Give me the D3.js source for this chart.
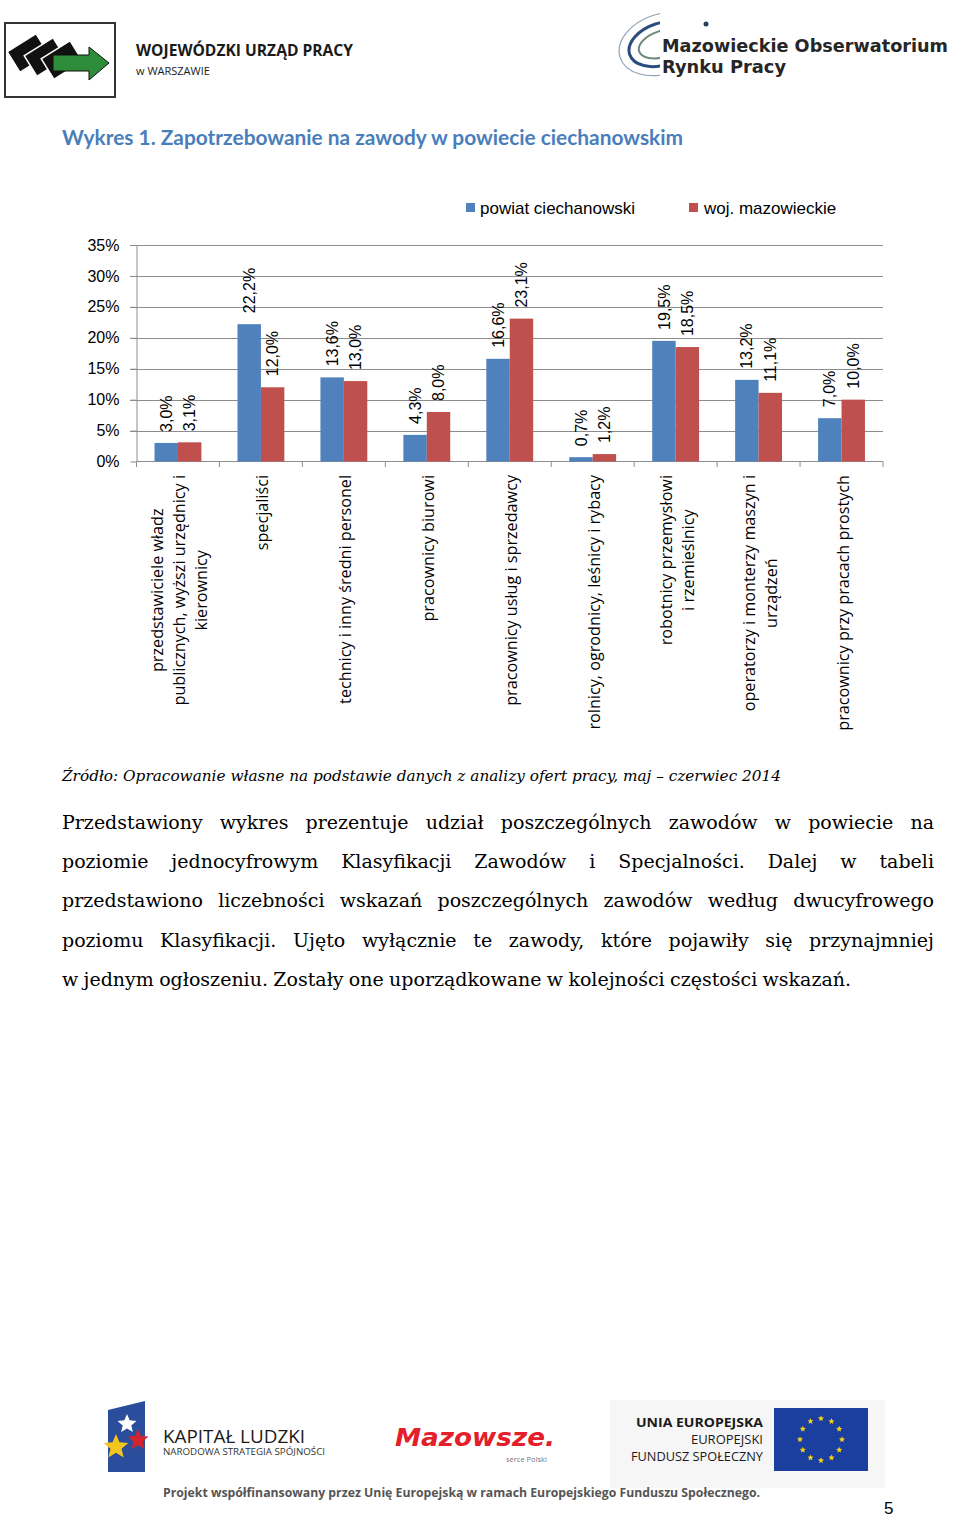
<!DOCTYPE html>
<html>
<head>
<meta charset="utf-8">
<script src="https://cdn.jsdelivr.net/npm/d3@7"></script>
<style>
body { margin: 0; background: #fff; }
svg { display: block; }
</style>
</head>
<body>
<script>
// Category labels (one entry per line of the rotated axis label)
var categories = [
  ["przedstawiciele władz", "publicznych, wyższi urzędnicy i", "kierownicy"],
  ["specjaliści"],
  ["technicy i inny średni personel"],
  ["pracownicy biurowi"],
  ["pracownicy usług i sprzedawcy"],
  ["rolnicy, ogrodnicy, leśnicy i rybacy"],
  ["robotnicy przemysłowi", "i rzemieślnicy"],
  ["operatorzy i monterzy maszyn i", "urządzeń"],
  ["pracownicy przy pracach prostych"]
];
var seriesNames = ["powiat ciechanowski", "woj. mazowieckie"];
var powiat = [3.0, 22.2, 13.6, 4.3, 16.6, 0.7, 19.5, 13.2, 7.0];
var mazowieckie = [3.1, 12.0, 13.0, 8.0, 23.1, 1.2, 18.5, 11.1, 10.0];
var yTicks = [0, 5, 10, 15, 20, 25, 30, 35];
var colors = ["#4f81bd", "#c0504d"];

var paraLines = [
  "Przedstawiony wykres prezentuje udział poszczególnych zawodów w powiecie na",
  "poziomie jednocyfrowym Klasyfikacji Zawodów i Specjalności. Dalej w tabeli",
  "przedstawiono liczebności wskazań poszczególnych zawodów według dwucyfrowego",
  "poziomu Klasyfikacji. Ujęto wyłącznie te zawody, które pojawiły się przynajmniej",
  "w jednym ogłoszeniu. Zostały one uporządkowane w kolejności częstości wskazań."
];

var svg = d3.select("body").append("svg")
    .attr("width", 960)
    .attr("height", 1519);

// ---------- header ----------
var head = svg.append("g");
head.append("rect").attr("x", 5).attr("y", 23).attr("width", 110).attr("height", 74)
    .attr("fill", "#fff").attr("stroke", "#333").attr("stroke-width", 2);
[[28, 53], [45, 57], [62, 60]].forEach(function(c) {
  head.append("rect").attr("x", -17).attr("y", -12).attr("width", 34).attr("height", 24)
      .attr("transform", "translate(" + c[0] + "," + c[1] + ") rotate(-32)")
      .attr("fill", "#111").attr("stroke", "#fff").attr("stroke-width", 1.5);
});
head.append("path")
    .attr("d", "M53,55 L89,55 L89,47 L109,63 L89,80 L89,71 L53,71 Z")
    .attr("fill", "#2e8b3a").attr("stroke", "#111").attr("stroke-width", 1);
head.append("text").attr("x", 136).attr("y", 56)
    .attr("font-family", "'Open Sans', sans-serif").attr("font-weight", "bold")
    .attr("font-size", 16).attr("fill", "#1a1a1a")
    .attr("textLength", 217).attr("lengthAdjust", "spacingAndGlyphs")
    .text("WOJEWÓDZKI URZĄD PRACY");
head.append("text").attr("x", 136).attr("y", 75)
    .attr("font-family", "'Open Sans', sans-serif")
    .attr("font-size", 11).attr("fill", "#1a1a1a")
    .text("w WARSZAWIE");

// observatory swirl (kept to the left of the wordmark)
svg.append("clipPath").attr("id", "swclip")
    .append("rect").attr("x", 600).attr("y", 0).attr("width", 60).attr("height", 100);
var sw = svg.append("g").attr("clip-path", "url(#swclip)")
    .append("g").attr("transform", "translate(662,44) rotate(-18)");
sw.append("ellipse").attr("rx", 44).attr("ry", 30).attr("fill", "none")
    .attr("stroke", "#8fa3b8").attr("stroke-width", 1.2);
sw.append("ellipse").attr("rx", 34).attr("ry", 21).attr("fill", "none")
    .attr("stroke", "#2b4c7e").attr("stroke-width", 3);
sw.append("ellipse").attr("rx", 24).attr("ry", 13).attr("fill", "none")
    .attr("stroke", "#6f8a7c").attr("stroke-width", 2);
svg.append("circle").attr("cx", 706).attr("cy", 24).attr("r", 2.5).attr("fill", "#2b3f5a");
[["Mazowieckie Obserwatorium", 52, 286], ["Rynku Pracy", 73, 124]].forEach(function(t) {
  head.append("text").attr("x", 662).attr("y", t[1])
      .attr("font-family", "'DejaVu Sans', sans-serif").attr("font-weight", "bold")
      .attr("font-size", 17).attr("fill", "#262626")
      .attr("textLength", t[2]).attr("lengthAdjust", "spacingAndGlyphs")
      .text(t[0]);
});

// title
svg.append("text").attr("x", 62).attr("y", 145)
    .attr("font-family", "Lato, 'Open Sans', sans-serif").attr("font-weight", "bold")
    .attr("font-size", 20).attr("fill", "#4a7ebb")
    .attr("textLength", 621).attr("lengthAdjust", "spacingAndGlyphs")
    .text("Wykres 1. Zapotrzebowanie na zawody w powiecie ciechanowskim");

// ---------- chart ----------
var x0 = d3.scaleBand().domain(d3.range(categories.length)).range([136.5, 883]);
var x1 = d3.scaleBand().domain([0, 1]).range([0, x0.bandwidth()]).paddingOuter(0.77);
var y = d3.scaleLinear().domain([0, 35]).range([461.5, 245]);
var fmt = function(v) { return d3.format(".1f")(v).replace(".", ",") + "%"; };

// gridlines
svg.append("g").selectAll("line")
    .data(yTicks.slice(1))
    .join("line")
    .attr("x1", 130).attr("x2", 883)
    .attr("y1", function(d) { return Math.round(y(d)) + 0.5; })
    .attr("y2", function(d) { return Math.round(y(d)) + 0.5; })
    .attr("stroke", "#8c8c8c").attr("stroke-width", 1);

// y axis
var yAxis = svg.append("g")
    .attr("transform", "translate(136.5,0)")
    .call(d3.axisLeft(y).tickValues(yTicks).tickSize(6).tickSizeOuter(0).tickPadding(11)
        .tickFormat(function(d) { return d + "%"; }));
yAxis.selectAll("line, path").attr("stroke", "#8c8c8c");
yAxis.selectAll("text").attr("font-family", "'Liberation Sans', Arial, sans-serif")
    .attr("font-size", 16).attr("fill", "#000");

// x axis line + boundary ticks
var xAxis = svg.append("g");
xAxis.append("line").attr("x1", 136.5).attr("x2", 883).attr("y1", 461.5).attr("y2", 461.5)
    .attr("stroke", "#8c8c8c");
xAxis.selectAll(".tk")
    .data(d3.range(categories.length + 1))
    .join("line")
    .attr("class", "tk")
    .attr("x1", function(i) { return 136.5 + i * x0.step(); })
    .attr("x2", function(i) { return 136.5 + i * x0.step(); })
    .attr("y1", 461.5).attr("y2", 467)
    .attr("stroke", "#8c8c8c");

// bars
var series = [powiat, mazowieckie];
series.forEach(function(vals, s) {
  svg.append("g").selectAll("rect")
      .data(vals)
      .join("rect")
      .attr("x", function(d, i) { return x0(i) + x1(s); })
      .attr("y", function(d) { return y(d); })
      .attr("width", x1.bandwidth())
      .attr("height", function(d) { return y(0) - y(d); })
      .attr("fill", colors[s]);

  svg.append("g").selectAll("text")
      .data(vals)
      .join("text")
      .attr("transform", function(d, i) {
        var cx = x0(i) + x1(s) + x1.bandwidth() / 2;
        return "translate(" + cx + "," + (y(d) - 11) + ") rotate(-90)";
      })
      .attr("dy", "0.35em")
      .attr("font-family", "'Liberation Sans', Arial, sans-serif")
      .attr("font-size", 16).attr("fill", "#000")
      .text(fmt);
});

// category labels (rotated, right-aligned at the axis, lines centred in block)
var labG = svg.append("g")
    .attr("font-family", "'Open Sans', Lato, sans-serif")
    .attr("font-size", 16.2).attr("fill", "#000");
categories.forEach(function(lines, i) {
  var cx = x0(i) + x0.bandwidth() / 2 + 1.5;
  var texts = lines.map(function(l) {
    return labG.append("text").attr("text-anchor", "middle").attr("dy", "0.35em").text(l);
  });
  var w = d3.max(texts, function(t) { return t.node().getComputedTextLength(); });
  var cy = 475 + w / 2;
  texts.forEach(function(t, j) {
    var lx = cx + (j - (lines.length - 1) / 2) * 22;
    t.attr("transform", "translate(" + lx + "," + cy + ") rotate(-90)");
  });
});

// legend
var leg = svg.append("g")
    .attr("font-family", "'Liberation Sans', Arial, sans-serif").attr("font-size", 17);
[[466, 480], [689, 704]].forEach(function(p, s) {
  leg.append("rect").attr("x", p[0]).attr("y", 203).attr("width", 9).attr("height", 9)
      .attr("fill", colors[s]);
  leg.append("text").attr("x", p[1]).attr("y", 213.5).attr("fill", "#000").text(seriesNames[s]);
});

// ---------- source + paragraph ----------
svg.append("text").attr("x", 62).attr("y", 781)
    .attr("font-family", "'DejaVu Serif', serif").attr("font-style", "italic")
    .attr("font-size", 15).attr("fill", "#000")
    .attr("textLength", 719).attr("lengthAdjust", "spacingAndGlyphs")
    .text("Źródło: Opracowanie własne na podstawie danych z analizy ofert pracy, maj – czerwiec 2014");

var para = svg.append("g")
    .attr("font-family", "'DejaVu Serif', serif").attr("font-size", 19).attr("fill", "#000");
paraLines.forEach(function(line, k) {
  var words = line.split(" ");
  var target = k === paraLines.length - 1 ? 789 : 872;
  var baseY = 829 + k * 39.2;
  var nodes = words.map(function(w) { return para.append("text").attr("y", baseY).text(w); });
  var widths = nodes.map(function(n) { return n.node().getComputedTextLength(); });
  var gap = (target - d3.sum(widths)) / (words.length - 1);
  var xPos = 62;
  nodes.forEach(function(n, j) {
    n.attr("x", xPos);
    xPos += widths[j] + gap;
  });
});

// ---------- footer ----------
var foot = svg.append("g");
foot.append("path").attr("d", "M108,1410 L145,1401 L145,1472 L108,1472 Z").attr("fill", "#2a4d9c");
function star(cx, cy, r, fill) {
  var pts = d3.range(10).map(function(k) {
    var a = -Math.PI / 2 + k * Math.PI / 5, rr = k % 2 ? r * 0.45 : r;
    return [cx + rr * Math.cos(a), cy + rr * Math.sin(a)];
  });
  return foot.append("polygon").attr("points", pts.join(" ")).attr("fill", fill);
}
star(127, 1424, 10, "#fff");
star(138, 1440, 11, "#d3232f");
star(116, 1447, 13, "#f4c51c");
foot.append("text").attr("x", 163).attr("y", 1443)
    .attr("font-family", "'Open Sans', sans-serif").attr("font-size", 19).attr("fill", "#1a1a1a")
    .attr("textLength", 142).attr("lengthAdjust", "spacingAndGlyphs")
    .text("KAPITAŁ LUDZKI");
foot.append("text").attr("x", 163).attr("y", 1455)
    .attr("font-family", "'Open Sans', sans-serif").attr("font-size", 8.5).attr("fill", "#333")
    .attr("textLength", 162).attr("lengthAdjust", "spacingAndGlyphs")
    .text("NARODOWA STRATEGIA SPÓJNOŚCI");

foot.append("text").attr("x", 395).attr("y", 1446)
    .attr("font-family", "'DejaVu Sans', sans-serif").attr("font-weight", "bold").attr("font-style", "italic")
    .attr("font-size", 25).attr("fill", "#e3202a")
    .attr("textLength", 160).attr("lengthAdjust", "spacingAndGlyphs")
    .text("Mazowsze.");
foot.append("text").attr("x", 506).attr("y", 1462)
    .attr("font-family", "'Open Sans', sans-serif").attr("font-size", 7.5).attr("fill", "#777")
    .text("serce Polski");

foot.append("rect").attr("x", 610).attr("y", 1400).attr("width", 275).attr("height", 88).attr("fill", "#f6f6f6");
foot.append("text").attr("x", 763).attr("y", 1427).attr("text-anchor", "end")
    .attr("font-family", "'Open Sans', sans-serif").attr("font-weight", "bold").attr("font-size", 13).attr("fill", "#1a1a1a")
    .attr("textLength", 127).attr("lengthAdjust", "spacingAndGlyphs")
    .text("UNIA EUROPEJSKA");
foot.append("text").attr("x", 763).attr("y", 1444).attr("text-anchor", "end")
    .attr("font-family", "'Open Sans', sans-serif").attr("font-size", 13).attr("fill", "#1a1a1a")
    .text("EUROPEJSKI");
foot.append("text").attr("x", 763).attr("y", 1461).attr("text-anchor", "end")
    .attr("font-family", "'Open Sans', sans-serif").attr("font-size", 13).attr("fill", "#1a1a1a")
    .attr("textLength", 132).attr("lengthAdjust", "spacingAndGlyphs")
    .text("FUNDUSZ SPOŁECZNY");
foot.append("rect").attr("x", 774).attr("y", 1408).attr("width", 94).attr("height", 63).attr("fill", "#1b3f9e");
d3.range(12).forEach(function(k) {
  var a = k * Math.PI / 6;
  star(821 + 21 * Math.cos(a), 1439.5 + 21 * Math.sin(a), 3.2, "#f7d117");
});

foot.append("text").attr("x", 163).attr("y", 1497)
    .attr("font-family", "'Open Sans', sans-serif").attr("font-weight", "bold").attr("font-size", 13).attr("fill", "#555")
    .attr("textLength", 597).attr("lengthAdjust", "spacingAndGlyphs")
    .text("Projekt współfinansowany  przez Unię Europejską w ramach Europejskiego Funduszu Społecznego.");
foot.append("text").attr("x", 884).attr("y", 1514)
    .attr("font-family", "'Liberation Sans', Arial, sans-serif").attr("font-size", 17).attr("fill", "#000")
    .text("5");
</script>
</body>
</html>
